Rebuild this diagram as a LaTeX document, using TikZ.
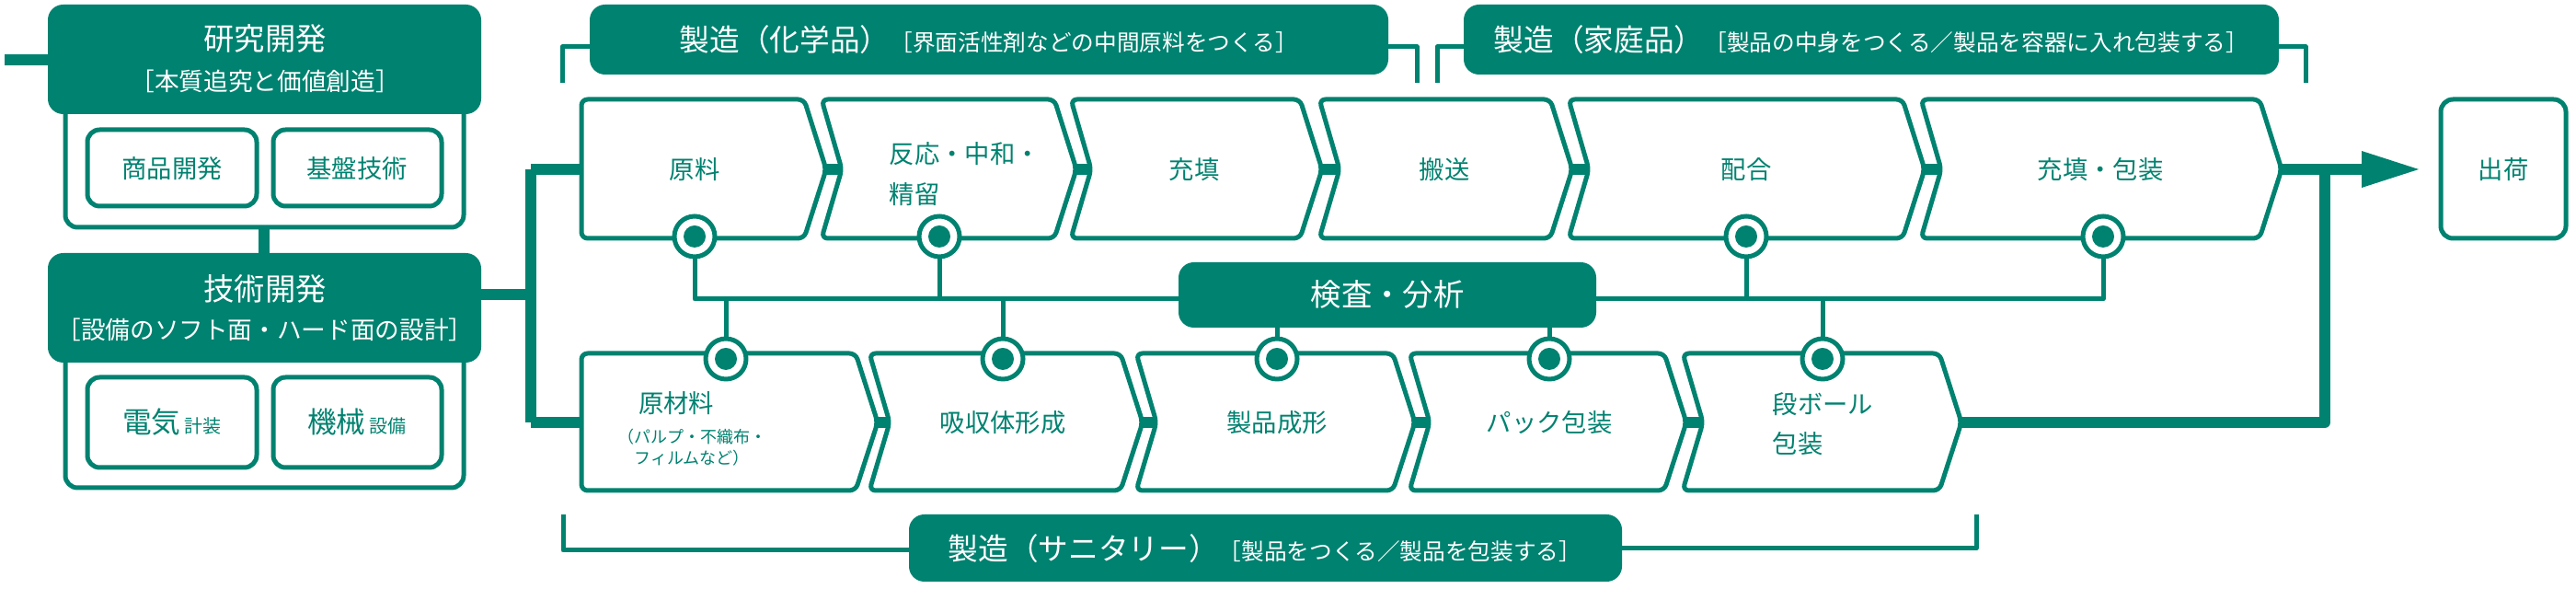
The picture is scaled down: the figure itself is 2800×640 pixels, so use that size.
\documentclass[tikz,border=0pt]{standalone}
\usepackage{fontspec}
\setmainfont{Noto Sans CJK JP}
\usetikzlibrary{positioning}
\definecolor{kgreen}{RGB}{0,130,112}

\begin{document}
\begin{tikzpicture}[x=0.3pt,y=-0.3pt,
    line join=round,
    hdr/.style={fill=kgreen, rounded corners=5pt},
    frame/.style={draw=kgreen, line width=1.5pt, rounded corners=4pt, fill=white},
    conn/.style={draw=kgreen, line width=3.6pt},
    thin/.style={draw=kgreen, line width=1.5pt},
    chev/.style={draw=kgreen, line width=1.5pt, fill=white, rounded corners=2pt},
    big/.style={text=white, font=\fontsize{10}{12}\selectfont},
    sub/.style={text=white, font=\fontsize{8}{10}\selectfont},
    lbl/.style={text=kgreen, font=\fontsize{8.2}{10}\selectfont},
    tiny/.style={text=kgreen, font=\fontsize{5.4}{7}\selectfont}]
\useasboundingbox (0,0) rectangle (2800,640);

% research and technology blocks
\draw[conn] (5,65) -- (54,65);
\draw[frame] (71,100) rectangle (504,247);
\fill[hdr] (52,5) rectangle (523,124);
\node[big] (res) at (288,42) {研究開発};
\node[sub] (ressub) at (288,88) {［本質追究と価値創造］};
\draw[frame] (95,141) rectangle (279,224);
\draw[frame] (297,141) rectangle (480,224);
\node[lbl] (prod) at (187,183) {商品開発};
\node[lbl] (base) at (388,183) {基盤技術};
\draw[conn] (287,247) -- (287,277);
\draw[frame] (71,380) rectangle (504,530);
\fill[hdr] (52,275) rectangle (523,394);
\node[big] (tech) at (288,314) {技術開発};
\node[sub] (techsub) at (288,358) {［設備のソフト面・ハード面の設計］};
\draw[frame] (95,410) rectangle (279,508);
\draw[frame] (297,410) rectangle (480,508);
\node[lbl] (elec) at (187,459) {{\fontsize{9.5}{11}\selectfont 電気}\,{\fontsize{6}{7}\selectfont 計装}};
\node[lbl] (mech) at (388,459) {{\fontsize{9.5}{11}\selectfont 機械}\,{\fontsize{6}{7}\selectfont 設備}};

% tree to the two lines
\coordinate (tA) at (577,184);
\coordinate (tB) at (577,459);
\draw[conn] (523,320) -- (577,320);
\draw[conn] (tA) -- (tB);
\draw[conn] (tA) -- (640,184);
\draw[conn] (tB) -- (640,459);

% top brackets
\draw[thin] (611,90) -- (611,51) -- (641,51);
\draw[thin] (1509,51) -- (1540,51) -- (1540,90);
\fill[hdr] (641,5) rectangle (1509,81);
\node[text=white] (chem) at (1075,43) {{\fontsize{9.8}{11}\selectfont 製造（化学品）}{\fontsize{7.4}{9}\selectfont［界面活性剤などの中間原料をつくる］}};
\draw[thin] (1562,90) -- (1562,51) -- (1591,51);
\draw[thin] (2477,51) -- (2506,51) -- (2506,90);
\fill[hdr] (1591,5) rectangle (2477,81);
\node[text=white] (home) at (2034,43) {{\fontsize{9.8}{11}\selectfont 製造（家庭品）}{\fontsize{7.4}{9}\selectfont［製品の中身をつくる／製品を容器に入れ包装する］}};

% bottom bracket
\draw[thin] (612,559) -- (612,598) -- (988,598);
\draw[thin] (1763,596) -- (2148,596) -- (2148,559);
\fill[hdr] (988,559) rectangle (1763,632);
\node[text=white] (sani) at (1375,596) {{\fontsize{9.8}{11}\selectfont 製造（サニタリー）}{\fontsize{7.4}{9}\selectfont［製品をつくる／製品を包装する］}};

% inspection lines
\draw[thin] (755,257) -- (755,325) -- (2286,325) -- (2286,257);
\foreach \x in {1021,1898} \draw[thin] (\x,257) -- (\x,325);
\foreach \x in {789,1090,1388,1684,1981} \draw[thin] (\x,325) -- (\x,390);
\fill[hdr] (1281,285) rectangle (1735,356);
\node[big] (insp) at (1508,320) {検査・分析};

% output arrow
\draw[conn] (2470,184) -- (2575,184);
\fill[kgreen] (2567,164) -- (2629,184) -- (2567,204) -- cycle;
\draw[conn] (2527,184) -- (2527,459) -- (2125,459);
\draw[frame] (2653,108) rectangle (2789,259);
\node[lbl] (ship) at (2721,184) {出荷};

% links between chevrons
\foreach \l in {893,1164,1434,1705,2088} \draw[conn] (\l-20,184) -- (\l+22,184);
\foreach \l in {945,1235,1532,1829} \draw[conn] (\l-20,459) -- (\l+22,459);

% top chevrons
\foreach \l/\r/\n in {632/874/0,893/1146/1,1164/1413/1,1434/1685/1,1705/2068/1,2088/2456/1}{
  \ifnum\n=1
    \draw[chev] (\l,108) -- (\r,108) -- (\r+24,184) -- (\r,259) -- (\l,259) -- (\l+22,184) -- cycle;
  \else
    \draw[chev] (\l,108) -- (\r,108) -- (\r+24,184) -- (\r,259) -- (\l,259) -- cycle;
  \fi
}
% bottom chevrons
\foreach \l/\r/\n in {632/930/0,945/1218/1,1235/1514/1,1532/1809/1,1829/2108/1}{
  \ifnum\n=1
    \draw[chev] (\l,384) -- (\r,384) -- (\r+24,459) -- (\r,533) -- (\l,533) -- (\l+22,459) -- cycle;
  \else
    \draw[chev] (\l,384) -- (\r,384) -- (\r+24,459) -- (\r,533) -- (\l,533) -- cycle;
  \fi
}

% markers
\foreach \x/\y in {755/257,1021/257,1898/257,2286/257,789/390,1090/390,1388/390,1684/390,1981/390}{
  \draw[thin, fill=white] (\x,\y) circle (22);
  \fill[kgreen] (\x,\y) circle (12);
}

% step labels
\node[lbl] (raw) at (755,184) {原料};
\node[lbl, align=left, anchor=west] (react) at (955,189) {反応・中和・\\[3pt]精留};
\node[lbl] (fill1) at (1298,184) {充填};
\node[lbl] (carry) at (1570,184) {搬送};
\node[lbl] (mix) at (1898,184) {配合};
\node[lbl] (pack1) at (2283,184) {充填・包装};
\node[lbl] (mat) at (735,438) {原材料};
\node[tiny, align=center] (matsub) at (752,486) {（パルプ・不織布・\\フィルムなど）};
\node[lbl] (absorb) at (1090,459) {吸収体形成};
\node[lbl] (form) at (1388,459) {製品成形};
\node[lbl] (pack2) at (1684,459) {パック包装};
\node[lbl, align=left, anchor=west] (box) at (1915,461) {段ボール\\[3pt]包装};
\end{tikzpicture}
\end{document}
